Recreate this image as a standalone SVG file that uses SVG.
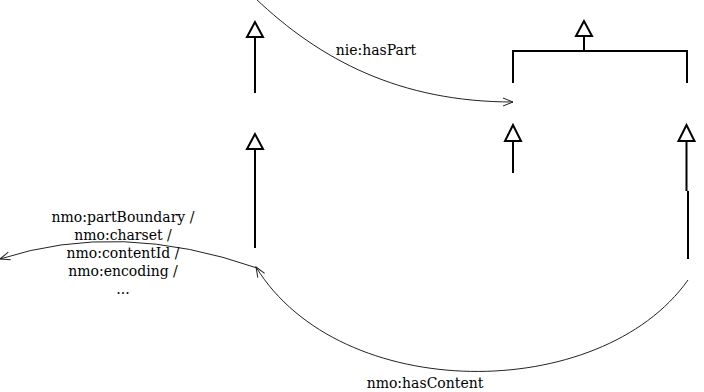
<svg xmlns="http://www.w3.org/2000/svg" width="704" height="392" viewBox="0 0 704 392">
  <style>
    .gen { fill: none; stroke: #000; stroke-width: 2; }
    .tri { fill: #fff; stroke: #000; stroke-width: 2; stroke-linejoin: miter; }
    .assoc { fill: none; stroke: #222; stroke-width: 1; }
    .lbl { font-family: "DejaVu Serif", "Liberation Serif", serif; font-size: 14px; fill: #000; text-anchor: middle; }
  </style>
  <defs>
    <marker id="open" markerWidth="12" markerHeight="10" refX="11" refY="5" orient="auto" markerUnits="userSpaceOnUse">
      <path d="M1,1 L11,5 L1,9" fill="none" stroke="#222" stroke-width="1"/>
    </marker>
  </defs>
  <rect width="704" height="392" fill="#fff"/>

  <g id="connectors">
    <!-- generalization: left upper -->
    <g id="gen-left-upper">
      <line class="gen" x1="255" y1="93" x2="255" y2="37"/>
      <path class="tri" d="M255,22 L247,37 L263,37 Z"/>
    </g>
    <!-- generalization: left lower -->
    <g id="gen-left-lower">
      <line class="gen" x1="255" y1="248" x2="255" y2="149"/>
      <path class="tri" d="M255,134 L247,149 L263,149 Z"/>
    </g>
    <!-- generalization: shared bracket on the right -->
    <g id="gen-bracket">
      <path class="gen" d="M513,83 V51 H687 V83"/>
      <line class="gen" x1="584" y1="51" x2="584" y2="36"/>
      <path class="tri" d="M584,21 L576,36 L592,36 Z"/>
    </g>
    <!-- generalization: middle right -->
    <g id="gen-mid">
      <line class="gen" x1="513" y1="173" x2="513" y2="141"/>
      <path class="tri" d="M513,125 L505,141 L521,141 Z"/>
    </g>
    <!-- generalization: far right -->
    <g id="gen-right">
      <path class="gen" d="M688,259 V191 M686.5,191 V141"/>
      <path class="tri" d="M686.5,125 L678.5,141 L694.5,141 Z"/>
    </g>
    <!-- associations -->
    <path id="assoc-haspart" class="assoc" marker-end="url(#open)" d="M255,-2 C320,60 400,102 513,102"/>
    <path id="assoc-hascontent" class="assoc" marker-end="url(#open)" d="M688,280 C600,404 340,404 256,267"/>
    <path id="assoc-props" class="assoc" marker-end="url(#open)" d="M257,268 Q120,220 0,259"/>
  </g>

  <g id="labels">
    <text class="lbl" x="376" y="55">nie:hasPart</text>
    <text class="lbl" x="425" y="388">nmo:hasContent</text>
    <text class="lbl" x="123" y="222">nmo:partBoundary /</text>
    <text class="lbl" x="123" y="240">nmo:charset /</text>
    <text class="lbl" x="123" y="258">nmo:contentId /</text>
    <text class="lbl" x="123" y="276">nmo:encoding /</text>
    <text class="lbl" x="123" y="294">...</text>
  </g>
</svg>
